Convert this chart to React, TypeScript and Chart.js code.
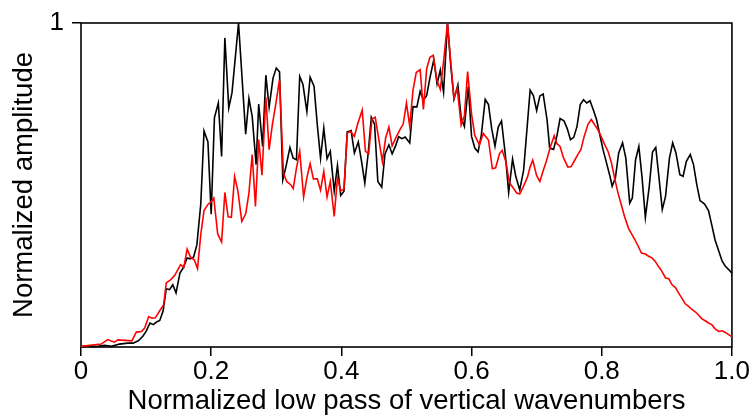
import React, { useEffect, useRef } from 'react';
import { Chart, registerables } from 'chart.js';

Chart.register(...registerables);

const FONT = '"Liberation Sans", Arial, Helvetica, sans-serif';

const xAxisTitle = 'Normalized low pass of vertical wavenumbers';
const yAxisTitle = 'Normalized amplitude';

const xTicks = [0, 0.2, 0.4, 0.6, 0.8, 1.0];
const xTickLabels = ['0', '0.2', '0.4', '0.6', '0.8', '1.0'];
const yTicks = [1];
const yTickLabels = ['1'];

const blackX = [
  0.000, 0.026, 0.036, 0.047, 0.059, 0.072, 0.080, 0.088, 0.095, 0.100,
  0.106, 0.111, 0.116, 0.121, 0.126, 0.131, 0.136, 0.141, 0.146, 0.152,
  0.157, 0.163, 0.168, 0.173, 0.178, 0.184, 0.189, 0.195, 0.200, 0.205,
  0.211, 0.216, 0.221, 0.227, 0.232, 0.242, 0.253, 0.258, 0.263, 0.269,
  0.273, 0.279, 0.284, 0.289, 0.295, 0.300, 0.305, 0.310, 0.315, 0.321,
  0.326, 0.331, 0.336, 0.341, 0.347, 0.352, 0.358, 0.363, 0.368, 0.373,
  0.378, 0.383, 0.389, 0.394, 0.399, 0.404, 0.409, 0.415, 0.420, 0.426,
  0.431, 0.436, 0.441, 0.446, 0.451, 0.456, 0.462, 0.467, 0.473, 0.478,
  0.483, 0.488, 0.493, 0.498, 0.505, 0.510, 0.516, 0.521, 0.526, 0.531,
  0.536, 0.542, 0.547, 0.552, 0.557, 0.563, 0.568, 0.573, 0.579, 0.584,
  0.589, 0.595, 0.600, 0.605, 0.610, 0.615, 0.621, 0.626, 0.631, 0.636,
  0.641, 0.646, 0.652, 0.657, 0.663, 0.668, 0.674, 0.680, 0.690, 0.695,
  0.700, 0.705, 0.710, 0.716, 0.720, 0.726, 0.731, 0.736, 0.742, 0.747,
  0.752, 0.757, 0.762, 0.767, 0.772, 0.777, 0.782, 0.787, 0.792, 0.797,
  0.802, 0.808, 0.813, 0.816, 0.821, 0.826, 0.832, 0.837, 0.843, 0.847,
  0.852, 0.857, 0.862, 0.867, 0.873, 0.878, 0.883, 0.888, 0.893, 0.898,
  0.904, 0.909, 0.914, 0.920, 0.925, 0.930, 0.936, 0.941, 0.946, 0.951,
  0.958, 0.964, 0.969, 0.974, 0.980, 0.985, 0.990, 0.995, 1.000,
];

const blackY = [
  0.002, 0.002, 0.005, 0.002, 0.009, 0.012, 0.012, 0.019, 0.033, 0.048,
  0.074, 0.069, 0.077, 0.082, 0.110, 0.180, 0.177, 0.192, 0.167, 0.228,
  0.244, 0.275, 0.272, 0.278, 0.315, 0.441, 0.667, 0.633, 0.410, 0.708,
  0.753, 0.588, 0.954, 0.738, 0.785, 1.000, 0.657, 0.767, 0.712, 0.563,
  0.750, 0.619, 0.839, 0.740, 0.830, 0.861, 0.849, 0.516, 0.558, 0.616,
  0.583, 0.578, 0.835, 0.810, 0.727, 0.833, 0.805, 0.686, 0.583, 0.676,
  0.581, 0.604, 0.481, 0.560, 0.468, 0.481, 0.664, 0.668, 0.599, 0.633,
  0.573, 0.506, 0.594, 0.709, 0.688, 0.511, 0.493, 0.596, 0.624, 0.596,
  0.619, 0.649, 0.643, 0.648, 0.630, 0.742, 0.741, 0.789, 0.762, 0.776,
  0.830, 0.887, 0.812, 0.855, 0.787, 1.000, 0.870, 0.765, 0.809, 0.708,
  0.681, 0.804, 0.650, 0.614, 0.602, 0.654, 0.764, 0.748, 0.673, 0.620,
  0.679, 0.698, 0.591, 0.477, 0.580, 0.526, 0.485, 0.546, 0.793, 0.776,
  0.730, 0.775, 0.781, 0.701, 0.614, 0.610, 0.650, 0.705, 0.698, 0.674,
  0.640, 0.647, 0.681, 0.748, 0.763, 0.753, 0.760, 0.732, 0.702, 0.655,
  0.609, 0.563, 0.524, 0.496, 0.522, 0.599, 0.630, 0.583, 0.444, 0.460,
  0.578, 0.619, 0.522, 0.400, 0.496, 0.602, 0.616, 0.522, 0.424, 0.465,
  0.583, 0.630, 0.599, 0.532, 0.527, 0.573, 0.594, 0.563, 0.501, 0.452,
  0.441, 0.421, 0.377, 0.331, 0.295, 0.265, 0.249, 0.239, 0.228,
];

const redX = [
  0.000, 0.031, 0.041, 0.051, 0.057, 0.078, 0.085, 0.093, 0.098, 0.104,
  0.109, 0.114, 0.121, 0.127, 0.131, 0.138, 0.144, 0.153, 0.158, 0.163,
  0.168, 0.174, 0.179, 0.184, 0.189, 0.195, 0.200, 0.204, 0.210, 0.216,
  0.221, 0.226, 0.231, 0.236, 0.241, 0.247, 0.253, 0.258, 0.263, 0.268,
  0.273, 0.278, 0.284, 0.289, 0.294, 0.300, 0.305, 0.311, 0.316, 0.322,
  0.326, 0.331, 0.336, 0.342, 0.347, 0.352, 0.357, 0.363, 0.368, 0.373,
  0.378, 0.383, 0.389, 0.394, 0.399, 0.404, 0.409, 0.414, 0.420, 0.425,
  0.432, 0.437, 0.442, 0.447, 0.452, 0.458, 0.463, 0.468, 0.473, 0.478,
  0.484, 0.490, 0.495, 0.500, 0.505, 0.510, 0.515, 0.521, 0.526, 0.531,
  0.536, 0.541, 0.547, 0.552, 0.557, 0.563, 0.568, 0.573, 0.578, 0.584,
  0.589, 0.594, 0.600, 0.605, 0.612, 0.618, 0.626, 0.632, 0.637, 0.643,
  0.647, 0.653, 0.658, 0.664, 0.669, 0.674, 0.680, 0.686, 0.690, 0.694,
  0.700, 0.705, 0.710, 0.715, 0.721, 0.727, 0.731, 0.736, 0.741, 0.748,
  0.753, 0.757, 0.763, 0.768, 0.773, 0.779, 0.784, 0.789, 0.794, 0.799,
  0.804, 0.810, 0.815, 0.820, 0.825, 0.830, 0.835, 0.841, 0.845, 0.851,
  0.856, 0.861, 0.867, 0.872, 0.877, 0.882, 0.887, 0.892, 0.898, 0.903,
  0.908, 0.913, 0.918, 0.923, 0.928, 0.933, 0.939, 0.944, 0.949, 0.954,
  0.959, 0.964, 0.969, 0.974, 0.980, 0.985, 0.990, 0.995, 1.000,
];

const redY = [
  0.002, 0.009, 0.023, 0.015, 0.022, 0.019, 0.046, 0.048, 0.059, 0.094,
  0.089, 0.090, 0.112, 0.131, 0.198, 0.208, 0.221, 0.254, 0.246, 0.302,
  0.278, 0.269, 0.242, 0.347, 0.421, 0.440, 0.448, 0.460, 0.349, 0.324,
  0.477, 0.402, 0.400, 0.526, 0.482, 0.388, 0.411, 0.475, 0.594, 0.434,
  0.640, 0.530, 0.771, 0.609, 0.686, 0.760, 0.825, 0.537, 0.511, 0.501,
  0.489, 0.552, 0.604, 0.463, 0.522, 0.566, 0.519, 0.519, 0.484, 0.542,
  0.463, 0.511, 0.403, 0.522, 0.482, 0.488, 0.660, 0.666, 0.650, 0.688,
  0.731, 0.604, 0.597, 0.704, 0.709, 0.635, 0.573, 0.645, 0.679, 0.621,
  0.647, 0.671, 0.688, 0.753, 0.681, 0.792, 0.847, 0.856, 0.733, 0.858,
  0.894, 0.900, 0.822, 0.795, 0.881, 1.000, 0.880, 0.768, 0.799, 0.685,
  0.714, 0.850, 0.719, 0.653, 0.624, 0.659, 0.639, 0.550, 0.553, 0.597,
  0.607, 0.570, 0.508, 0.491, 0.476, 0.472, 0.497, 0.525, 0.556, 0.577,
  0.529, 0.511, 0.544, 0.574, 0.617, 0.652, 0.628, 0.619, 0.585, 0.555,
  0.557, 0.571, 0.593, 0.610, 0.650, 0.688, 0.702, 0.686, 0.671, 0.650,
  0.627, 0.602, 0.568, 0.519, 0.475, 0.439, 0.403, 0.367, 0.352, 0.331,
  0.311, 0.290, 0.287, 0.280, 0.275, 0.265, 0.249, 0.235, 0.213, 0.211,
  0.192, 0.184, 0.167, 0.151, 0.134, 0.126, 0.115, 0.108, 0.098, 0.087,
  0.081, 0.074, 0.069, 0.056, 0.048, 0.050, 0.045, 0.038, 0.031,
];

const framePlugin = {
  id: 'frame',
  beforeDatasetsDraw(chart: any) {
    const { ctx, chartArea } = chart;
    const { left, top, right, bottom } = chartArea;
    ctx.save();
    ctx.strokeStyle = '#000';
    ctx.lineWidth = 1.6;
    ctx.strokeRect(left, top, right - left, bottom - top);
    ctx.restore();
  },
};

export default function App() {
  const canvasRef = useRef<HTMLCanvasElement | null>(null);

  useEffect(() => {
    const canvas = canvasRef.current;
    if (!canvas) return;
    const chart = new Chart(canvas, {
      type: 'line',
      data: {
        datasets: [
          {
            label: 'red',
            data: redX.map((x, i) => ({ x, y: redY[i] })),
            borderColor: '#ff0000',
            borderWidth: 1.6,
            pointRadius: 0,
            tension: 0,
            fill: false,
            clip: 4,
          },
          {
            label: 'black',
            data: blackX.map((x, i) => ({ x, y: blackY[i] })),
            borderColor: '#000000',
            borderWidth: 1.6,
            pointRadius: 0,
            tension: 0,
            fill: false,
            clip: 4,
          },
        ],
      },
      options: {
        animation: false,
        responsive: true,
        maintainAspectRatio: false,
        layout: { padding: { top: 23, right: 21, left: 0, bottom: 0 } },
        plugins: {
          legend: { display: false },
          tooltip: { enabled: false },
        },
        scales: {
          x: {
            type: 'linear',
            min: 0,
            max: 1,
            afterBuildTicks: (s: any) => {
              s.ticks = xTicks.map((v) => ({ value: v }));
            },
            afterFit: (s: any) => {
              s.height = 73;
            },
            ticks: {
              callback: (v: any) => xTickLabels[xTicks.indexOf(v)],
              font: { family: FONT, size: 26, lineHeight: 1 },
              color: '#000',
              padding: 3,
              maxRotation: 0,
              autoSkip: false,
            },
            grid: {
              display: true,
              drawOnChartArea: false,
              drawTicks: true,
              tickLength: 9,
              color: '#000',
              lineWidth: 1.5,
            },
            border: { display: false },
            title: {
              display: true,
              text: xAxisTitle,
              font: { family: FONT, size: 27.5, lineHeight: 1.2 },
              color: '#000',
              padding: { top: 0, bottom: 2 },
            },
          },
          y: {
            type: 'linear',
            min: 0,
            max: 1,
            afterBuildTicks: (s: any) => {
              s.ticks = yTicks.map((v) => ({ value: v }));
            },
            afterFit: (s: any) => {
              s.width = 81;
            },
            ticks: {
              callback: (v: any) => yTickLabels[yTicks.indexOf(v)],
              font: { family: FONT, size: 26, lineHeight: 1 },
              color: '#000',
              padding: 8,
            },
            grid: {
              display: true,
              drawOnChartArea: false,
              drawTicks: true,
              tickLength: 9,
              color: '#000',
              lineWidth: 1.5,
            },
            border: { display: false },
            title: {
              display: true,
              text: yAxisTitle,
              font: { family: FONT, size: 27.5, lineHeight: 1.2 },
              color: '#000',
              padding: { top: 8, bottom: 0 },
            },
          },
        },
      },
      plugins: [framePlugin],
    });
    return () => chart.destroy();
  }, []);

  return (
    <div style={{ position: 'fixed', left: 0, top: 0, width: 753, height: 420, background: '#fff' }}>
      <canvas ref={canvasRef} />
    </div>
  );
}
